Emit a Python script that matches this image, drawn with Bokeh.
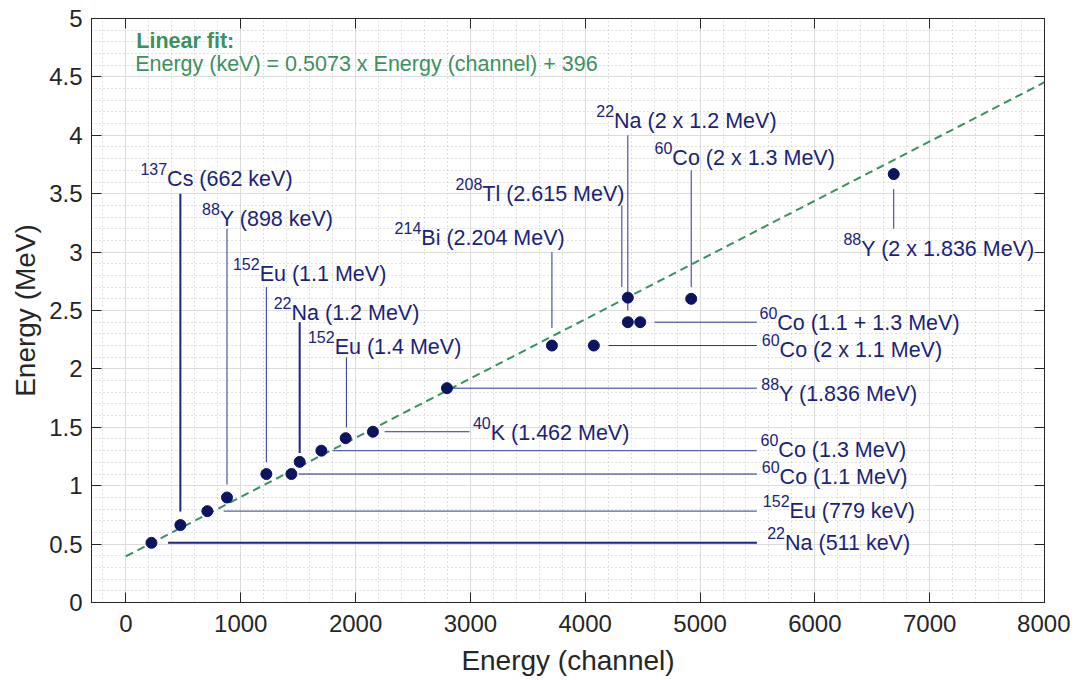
from bokeh.plotting import figure
from bokeh.models import (ColumnDataSource, Range1d, LinearAxis, SingleIntervalTicker,
                          CustomJSTickFormatter)
from bokeh.embed import file_html
from bokeh.resources import INLINE
from bokeh.core.properties import value

# ---------------- data ----------------
channel = [222, 474, 709, 880, 1223, 1441, 1513, 1702, 1914, 2151, 2796,
           3710, 4075, 4371, 4371, 4479, 4923, 6687]
energy_mev = [0.511, 0.663, 0.782, 0.899, 1.100, 1.100, 1.204, 1.300, 1.407, 1.462, 1.835,
              2.200, 2.200, 2.610, 2.400, 2.400, 2.600, 3.668]
mass_num = ["22", "137", "152", "88", "152", "60", "22", "60", "152", "40", "88",
            "214", "60", "208", "22", "60", "60", "88"]
element = ["Na", "Cs", "Eu", "Y", "Eu", "Co", "Na", "Co", "Eu", "K", "Y",
           "Bi", "Co", "Tl", "Na", "Co", "Co", "Y"]
peak_text = ["(511 keV)", "(662 keV)", "(779 keV)", "(898 keV)", "(1.1 MeV)", "(1.1 MeV)",
             "(1.2 MeV)", "(1.3 MeV)", "(1.4 MeV)", "(1.462 MeV)", "(1.836 MeV)",
             "(2.204 MeV)", "(2 x 1.1 MeV)", "(2.615 MeV)", "(2 x 1.2 MeV)",
             "(1.1 + 1.3 MeV)", "(2 x 1.3 MeV)", "(2 x 1.836 MeV)"]

# label anchor (left of mass number, baseline of main text), data units
label_x = [5585, 126, 5547, 663, 932, 5538, 1287, 5527, 1585, 3022, 5533,
           2340, 5538, 2871, 4096, 5518, 4604, 6249]
label_y = [0.443, 3.557, 0.717, 3.214, 2.743, 1.008, 2.414, 1.236, 2.115, 1.384, 1.716,
           3.054, 2.092, 3.428, 4.056, 2.324, 3.741, 2.960]

# leader lines (data units)
lead_x0 = [367, 474, 851, 880, 1223, 1504, 1513, 1800, 1920, 2253, 2836,
           3710, 4203, 4319, 4371, 4604, 4923, 6687]
lead_x1 = [5495, 474, 5495, 880, 1223, 5495, 1513, 5495, 1920, 2993, 5495,
           3710, 5495, 4319, 4371, 5495, 4923, 6687]
lead_y0 = [0.511, 0.78, 0.782, 1.01, 1.20, 1.100, 1.28, 1.300, 1.50, 1.462, 1.835,
           2.35, 2.200, 2.70, 2.50, 2.400, 2.70, 3.54]
lead_y1 = [0.511, 3.50, 0.782, 3.20, 2.70, 1.100, 2.40, 1.300, 2.10, 1.462, 1.835,
           3.00, 2.200, 3.40, 4.00, 2.400, 3.70, 3.20]
lead_w = [2, 2, 1.4, 1, 1, 1, 2, 1.4, 1, 1, 1, 1, 1, 1, 1, 1, 1, 1]
lead_c = ["#1b2680", "#1b2680", "#5561ad", "#2a3588", "#2a3588", "#1b2680", "#1b2680",
          "#5561ad", "#2a3588", "#2a3588", "#2a3588", "#2a3588", "#2a3588", "#2a3588",
          "#2a3588", "#2a3588", "#2a3588", "#2a3588"]

fit_slope_kev = 0.5073
fit_intercept_kev = 396
fit_x = [0, 8000]

# ---------------- style ----------------
TXT = "#1b2378"
PT = "#0c1462"
GREEN = "#3b9160"
AX = "#262626"
FONT = "Liberation Sans"

p = figure(frame_width=953, frame_height=584,
           x_range=Range1d(-300, 8000), y_range=Range1d(0, 5),
           output_backend="svg", toolbar_location=None,
           min_border_left=91, min_border_right=26, min_border_top=18, min_border_bottom=56)
p.background_fill_color = "white"
p.outline_line_color = AX

xt = SingleIntervalTicker(interval=1000, num_minor_ticks=5)
yt = SingleIntervalTicker(interval=0.5, num_minor_ticks=5)
fmt = CustomJSTickFormatter(code="return tick.toString();")
blank = CustomJSTickFormatter(code="return '';")

for ax, tk, lbl in ((p.xaxis[0], xt, "Energy (channel)"), (p.yaxis[0], yt, "Energy (MeV)")):
    ax.ticker = tk
    ax.formatter = fmt
    ax.axis_label = lbl
    ax.axis_label_text_font = FONT
    ax.axis_label_text_font_size = "28px"
    ax.axis_label_text_font_style = "normal"
    ax.axis_label_text_color = AX
    ax.major_label_text_font = FONT
    ax.major_label_text_font_size = "24px"
    ax.major_label_text_color = AX
    ax.major_tick_in = 10
    ax.major_tick_out = 0
    ax.minor_tick_in = 0
    ax.minor_tick_out = 0
    ax.axis_line_color = AX
    ax.major_tick_line_color = AX
p.xaxis[0].major_label_standoff = 12
p.xaxis[0].axis_label_standoff = 10
p.yaxis[0].major_label_standoff = 9
p.yaxis[0].axis_label_standoff = 5

top = LinearAxis(ticker=SingleIntervalTicker(interval=1000, num_minor_ticks=5), formatter=blank,
                 major_tick_in=10, major_tick_out=0, minor_tick_in=0, minor_tick_out=0,
                 major_label_text_font_size="1px", major_label_standoff=0,
                 axis_line_color=AX, major_tick_line_color=AX)
right = LinearAxis(ticker=SingleIntervalTicker(interval=0.5, num_minor_ticks=5), formatter=blank,
                   major_tick_in=10, major_tick_out=0, minor_tick_in=0, minor_tick_out=0,
                   major_label_text_font_size="1px", major_label_standoff=0,
                   axis_line_color=AX, major_tick_line_color=AX)
p.add_layout(top, "above")
p.add_layout(right, "right")

for g, tk in ((p.xgrid[0], xt), (p.ygrid[0], yt)):
    g.ticker = tk
    g.grid_line_color = "#dcdcdc"
    g.grid_line_width = 1
    g.minor_grid_line_color = "#bdbdbd"
    g.minor_grid_line_dash = "1 3"
    g.minor_grid_line_alpha = 0.9

# fit line
fit_y = [(fit_slope_kev * x + fit_intercept_kev) / 1000.0 for x in fit_x]
p.line(fit_x, fit_y, line_color=GREEN, line_width=2, line_dash="8 5")

# leaders
lead_src = ColumnDataSource(dict(x0=lead_x0, y0=lead_y0, x1=lead_x1, y1=lead_y1,
                                 w=lead_w, c=lead_c))
p.segment("x0", "y0", "x1", "y1", source=lead_src, line_width="w", line_color="c")

# points
p.scatter(channel, energy_mev, size=11, fill_color=PT, line_color=PT, marker="circle")

# labels: mass number as superscript + element/peak
sup_w = [len(m) * 8.9 for m in mass_num]
main_txt = [e + " " + t for e, t in zip(element, peak_text)]
lab_src = ColumnDataSource(dict(x=label_x, y=label_y, sup=mass_num, main=main_txt, dx=sup_w))
p.text("x", "y", text="sup", source=lab_src, text_font=value(FONT), text_font_size="16px",
       text_color=TXT, text_baseline="alphabetic", text_align="left", y_offset=-18)
p.text("x", "y", text="main", source=lab_src, text_font=value(FONT), text_font_size="21.5px",
       text_color=TXT, text_baseline="alphabetic", text_align="left", x_offset="dx", y_offset=-8)

# fit annotation
p.text([90], [4.74], text=["Linear fit:"], text_font=value(FONT), text_font_size="21.5px",
       text_font_style="bold", text_color=GREEN, text_baseline="alphabetic", y_offset=-8)
p.text([80], [4.535], text=["Energy (keV) = %.4f x Energy (channel) + %d" % (fit_slope_kev, fit_intercept_kev)],
       text_font=value(FONT), text_font_size="21.5px", text_color=GREEN, text_baseline="alphabetic",
       y_offset=-9)

open("out.html", "w").write(file_html(p, INLINE))
